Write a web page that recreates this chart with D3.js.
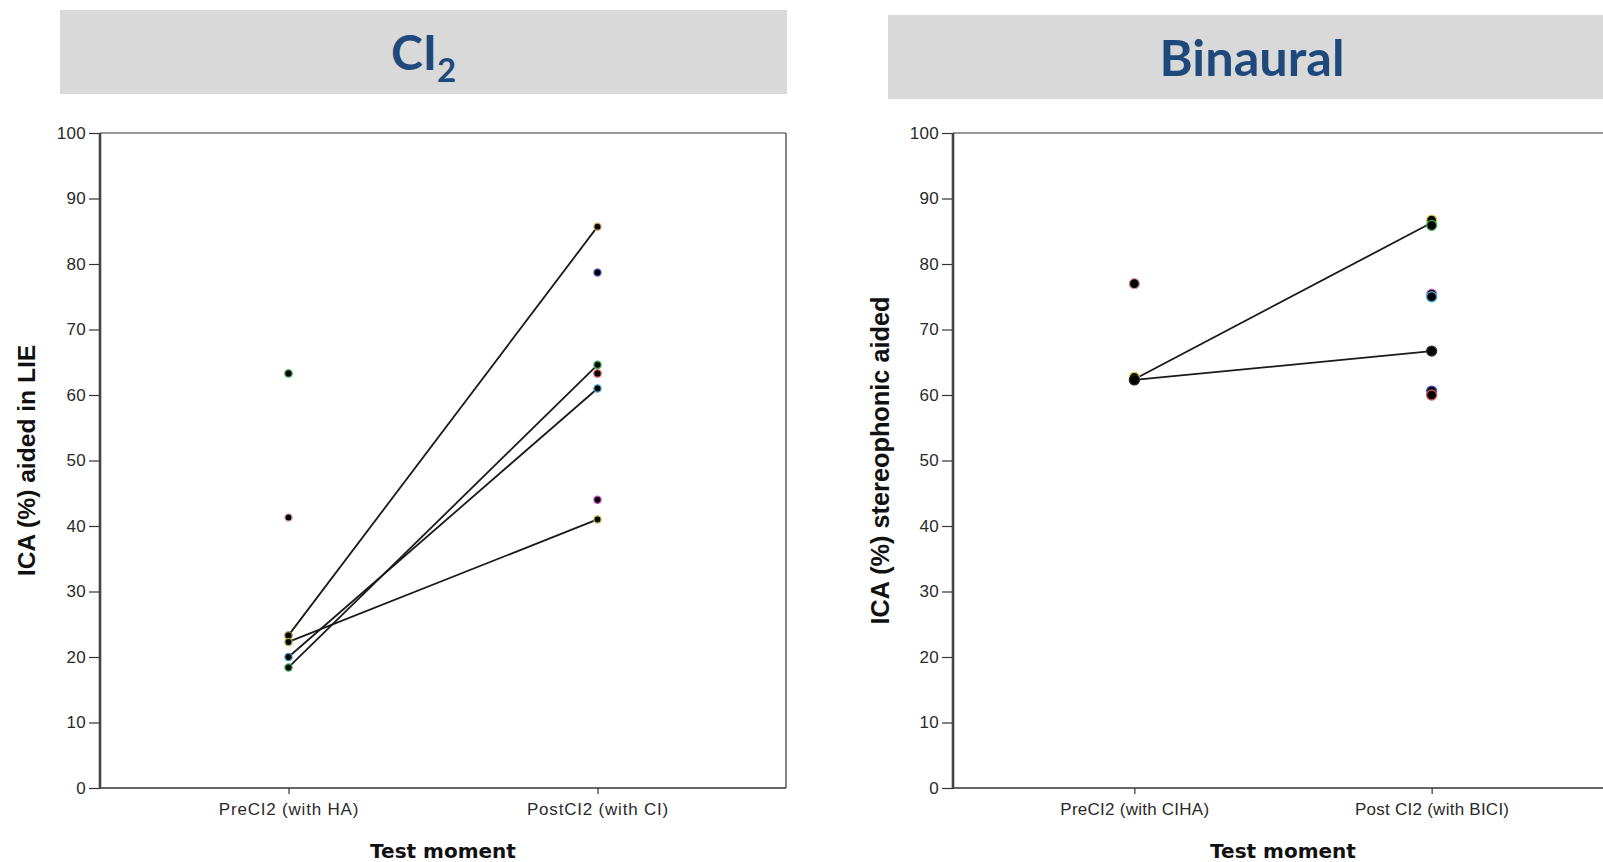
<!DOCTYPE html>
<html>
<head>
<meta charset="utf-8">
<script src="https://cdn.jsdelivr.net/npm/d3@7"></script>
<style>
  html, body { margin: 0; padding: 0; background: #fff; }
  svg { display: block; }
</style>
</head>
<body>
<svg id="chart" width="1603" height="862"></svg>
<script>
// ---------------- DATA ----------------
const yTicks = [0, 10, 20, 30, 40, 50, 60, 70, 80, 90, 100];

// Panel 1: CI2
const ci2Title = "CI";
const ci2TitleSub = "2";
const ci2Categories = ["PreCI2 (with HA)", "PostCI2 (with CI)"];
const ci2YLabel = "ICA (%) aided in LIE";
const ci2PreValues  = [63.3, 41.3, 23.3, 22.3, 20.0, 18.4];
const ci2PreColors  = ["#3a9a4a", "#d9a0a8", "#a07a30", "#b0b040", "#3b9ac8", "#3cb04a"];
const ci2PostValues = [85.7, 78.7, 64.6, 63.3, 61.0, 44.0, 41.0];
const ci2PostColors = ["#d8a860", "#6060c8", "#3cb04a", "#d04848", "#40a8d0", "#c850c8", "#c8c040"];
const ci2Pairs = [[23.3, 85.7], [22.3, 41.0], [20.0, 61.0], [18.4, 64.6]];

// Panel 2: Binaural
const binTitle = "Binaural";
const binCategories = ["PreCI2 (with CIHA)", "Post CI2 (with BICI)"];
const binYLabel = "ICA (%) stereophonic aided";
const binPreValues  = [77.0, 62.7, 62.3];
const binPreColors  = ["#d09090", "#d8d050", "#202020"];
const binPostValues = [86.7, 85.9, 75.4, 75.0, 66.7, 60.6, 60.0];
const binPostColors = ["#d8d050", "#3cb04a", "#d070c0", "#40a8d0", "#303030", "#5050c8", "#d05050"];
const binPairs = [[62.4, 86.3], [62.3, 66.7]];

const xAxisTitle = "Test moment";

// ---------------- DRAW ----------------
const svg = d3.select("#chart");

function drawPanel(cfg) {
  const g = svg.append("g");

  // title bar
  g.append("rect")
    .attr("x", cfg.barX0).attr("y", cfg.barY0)
    .attr("width", cfg.barX1 - cfg.barX0).attr("height", cfg.barY1 - cfg.barY0)
    .attr("fill", "#d9d9d9");
  const t = g.append("text")
    .attr("x", cfg.titleX)
    .attr("y", cfg.titleBaseline)
    .attr("text-anchor", "middle")
    .attr("font-family", "Lato, 'Open Sans', sans-serif")
    .attr("font-weight", "bold")
    .attr("font-size", cfg.titleSize)
    .attr("fill", "#1f497d");
  t.append("tspan").text(cfg.title);
  if (cfg.titleSub) {
    t.append("tspan").attr("dy", 12).attr("font-size", 33).text(cfg.titleSub);
  }

  const y = d3.scaleLinear().domain([0, 100]).range([cfg.y1, cfg.y0]);
  const x = d3.scalePoint().domain(cfg.categories).range([cfg.x0, cfg.x1]).padding(0.61);

  // frame top & right
  g.append("line")
    .attr("x1", cfg.x0).attr("x2", Math.min(cfg.x1, 1603))
    .attr("y1", cfg.y0).attr("y2", cfg.y0)
    .attr("stroke", "#333").attr("stroke-width", 1.2);
  if (cfg.x1 < 1603) {
    g.append("line")
      .attr("x1", cfg.x1).attr("x2", cfg.x1)
      .attr("y1", cfg.y0).attr("y2", cfg.y1)
      .attr("stroke", "#333").attr("stroke-width", 1.2);
  }

  // y axis
  const yAxis = g.append("g")
    .attr("transform", `translate(${cfg.x0},0)`)
    .call(d3.axisLeft(y).tickValues(yTicks).tickSize(11).tickPadding(3).tickSizeOuter(0));
  yAxis.select(".domain").remove();
  yAxis.selectAll(".tick line").attr("stroke", "#333").attr("stroke-width", 1.2);
  yAxis.selectAll(".tick text")
    .attr("font-family", "'Liberation Sans', Arial, sans-serif")
    .attr("font-size", 17)
    .attr("letter-spacing", "0.3px")
    .attr("fill", "#2a2a2a");

  // x axis
  const xAxis = g.append("g")
    .attr("transform", `translate(0,${cfg.y1})`)
    .call(d3.axisBottom(x).tickSize(6).tickPadding(9).tickSizeOuter(0));
  xAxis.select(".domain").remove();
  xAxis.selectAll(".tick line").attr("stroke", "#333").attr("stroke-width", 1.2);
  xAxis.selectAll(".tick text")
    .attr("font-family", "'Liberation Sans', Arial, sans-serif")
    .attr("font-size", 17)
    .attr("letter-spacing", cfg.xLabelSpacing)
    .attr("fill", "#2a2a2a");

  // bottom axis line
  g.append("line")
    .attr("x1", cfg.x0).attr("x2", Math.min(cfg.x1, 1603))
    .attr("y1", cfg.y1).attr("y2", cfg.y1)
    .attr("stroke", "#333").attr("stroke-width", 1.6);
  // thick y axis line
  g.append("line")
    .attr("x1", cfg.x0).attr("x2", cfg.x0)
    .attr("y1", cfg.y0).attr("y2", cfg.y1 + 0.8)
    .attr("stroke", "#444").attr("stroke-width", 2.6);

  // axis titles
  g.append("text")
    .attr("x", (cfg.x0 + cfg.x1) / 2)
    .attr("y", cfg.y1 + 70)
    .attr("text-anchor", "middle")
    .attr("font-family", "'DejaVu Sans', Verdana, sans-serif")
    .attr("font-weight", "bold")
    .attr("font-size", 20)
    .attr("fill", "#111")
    .text(xAxisTitle);

  g.append("text")
    .attr("transform", `translate(${cfg.yLabelX},${(cfg.y0 + cfg.y1) / 2}) rotate(-90)`)
    .attr("text-anchor", "middle")
    .attr("font-family", "'Liberation Sans', Arial, sans-serif")
    .attr("font-weight", "bold")
    .attr("font-size", cfg.yLabelSize)
    .attr("fill", "#111")
    .text(cfg.yLabel);

  // connecting lines
  g.append("g").selectAll("line").data(cfg.pairs).join("line")
    .attr("x1", x(cfg.categories[0]))
    .attr("x2", x(cfg.categories[1]))
    .attr("y1", d => y(d[0]))
    .attr("y2", d => y(d[1]))
    .attr("stroke", "#1a1a1a").attr("stroke-width", 1.8);

  // points
  const pts = [];
  cfg.pre.forEach((v, i) => pts.push({ c: cfg.categories[0], v, col: cfg.preColors[i] }));
  cfg.post.forEach((v, i) => pts.push({ c: cfg.categories[1], v, col: cfg.postColors[i] }));
  g.append("g").selectAll("circle").data(pts).join("circle")
    .attr("cx", d => x(d.c))
    .attr("cy", d => y(d.v))
    .attr("r", cfg.r)
    .attr("fill", "#000")
    .attr("stroke", d => d.col)
    .attr("stroke-width", 1.3);
}

drawPanel({
  barX0: 60, barX1: 787, barY0: 10, barY1: 94, titleBaseline: 70, titleX: 423.5, titleSize: 48,
  title: ci2Title, titleSub: ci2TitleSub,
  x0: 100, x1: 786, y0: 133, y1: 788, yLabelX: 35, yLabelSize: 24.6, xLabelSpacing: "0.8px",
  categories: ci2Categories, yLabel: ci2YLabel,
  pre: ci2PreValues, preColors: ci2PreColors,
  post: ci2PostValues, postColors: ci2PostColors,
  pairs: ci2Pairs, r: 3.6
});

drawPanel({
  barX0: 888, barX1: 1603, barY0: 15, barY1: 99, titleBaseline: 76, titleX: 1252, titleSize: 50.5,
  title: binTitle, titleSub: null,
  x0: 953, x1: 1613, y0: 133, y1: 788, yLabelX: 889, yLabelSize: 25.3, xLabelSpacing: "0.25px",
  categories: binCategories, yLabel: binYLabel,
  pre: binPreValues, preColors: binPreColors,
  post: binPostValues, postColors: binPostColors,
  pairs: binPairs, r: 5
});
</script>
</body>
</html>
